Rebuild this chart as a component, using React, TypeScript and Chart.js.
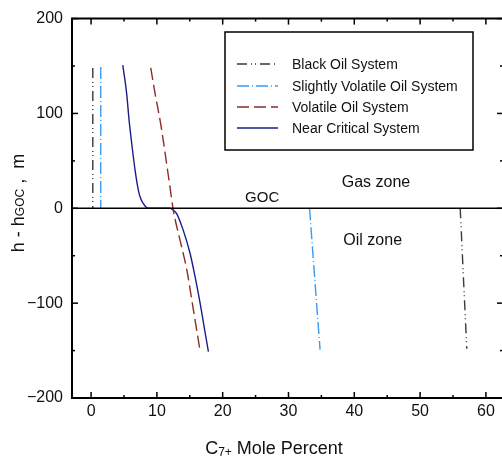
import React, { useEffect, useRef } from 'react';
import { Chart, registerables } from 'chart.js';

Chart.register(...registerables);

const FONT = '"Liberation Sans", Arial, Helvetica, sans-serif';

// ---- data ----
const seriesNames = [
  'Black Oil System',
  'Slightly Volatile Oil System',
  'Volatile Oil System',
  'Near Critical System',
];
const seriesColors = ['#3a3a3a', '#3a9af0', '#8e2b2b', '#1c1c8a'];

// C7+ mole percent (x) vs h - hGOC (m); null splits gas-zone and oil-zone branches
const blackOilX: (number | null)[] = [0.26, 0.26, null, 56.1, 56.6, 57.1];
const blackOilH: (number | null)[] = [148, 0, null, 0, -75, -148];

const slightlyVolX: (number | null)[] = [1.47, 1.47, null, 33.2, 34.0, 34.8];
const slightlyVolH: (number | null)[] = [149, 0, null, 0, -75, -149];

const volatileX: number[] = [9.07, 9.75, 10.49, 11.0, 11.5, 12.0, 12.45, 12.8, 13.6, 14.55, 15.5, 16.56];
const volatileH: number[] = [148, 120, 92.6, 70, 46, 22, 0, -12.6, -36, -65, -105, -150];

const nearCritX: number[] = [4.82, 5.41, 5.78, 6.18, 6.69, 7.19, 7.55, 7.95, 8.3, 8.7, 12.0, 12.5, 13.0, 14.0, 15.05, 15.8, 16.57, 17.18, 17.83];
const nearCritH: number[] = [151, 120.7, 92.6, 68.1, 40, 19, 10, 4.9, 1.6, 0, 0, -1.8, -5.6, -23, -47.7, -72, -100, -125, -151];

const xTickValues = [0, 10, 20, 30, 40, 50, 60];
const xMinorValues = [5, 15, 25, 35, 45, 55];
const yTickValues = [-200, -100, 0, 100, 200];
const yMinorValues = [-150, -50, 50, 150];

const seriesDashes: number[][] = [
  [10, 4, 1, 3, 1, 4],
  [12, 3, 1, 3],
  [12, 5],
  [],
];

function toPoints(xs: (number | null)[], hs: (number | null)[]) {
  return xs.map((x, i) => ({ x: x as any, y: hs[i] as any }));
}

const framePlugin = {
  id: 'frame',
  afterDraw(chart: any) {
    const { ctx, chartArea } = chart;
    const xs = chart.scales.x;
    const ys = chart.scales.y;
    const { left, right, top, bottom } = chartArea;
    ctx.save();
    ctx.strokeStyle = '#000';
    // frame
    ctx.lineWidth = 2;
    ctx.beginPath();
    ctx.moveTo(left, top);
    ctx.lineTo(right, top);
    ctx.lineTo(right, bottom);
    ctx.lineTo(left, bottom);
    ctx.closePath();
    ctx.stroke();
    // GOC line
    const y0 = ys.getPixelForValue(0);
    ctx.lineWidth = 1.5;
    ctx.beginPath();
    ctx.moveTo(left, y0);
    ctx.lineTo(right, y0);
    ctx.stroke();
    // ticks (inward)
    ctx.lineWidth = 1.5;
    const tk = (x1: number, y1: number, x2: number, y2: number) => {
      ctx.beginPath();
      ctx.moveTo(x1, y1);
      ctx.lineTo(x2, y2);
      ctx.stroke();
    };
    xTickValues.forEach((v) => {
      const px = xs.getPixelForValue(v);
      tk(px, bottom, px, bottom - 6);
      tk(px, top, px, top + 6);
    });
    xMinorValues.forEach((v) => {
      const px = xs.getPixelForValue(v);
      tk(px, bottom, px, bottom - 3);
      tk(px, top, px, top + 3);
    });
    yTickValues.forEach((v) => {
      const py = ys.getPixelForValue(v);
      tk(left, py, left + 6, py);
      tk(right, py, right - 6, py);
    });
    yMinorValues.forEach((v) => {
      const py = ys.getPixelForValue(v);
      tk(left, py, left + 3, py);
      tk(right, py, right - 3, py);
    });

    // legend box
    ctx.lineWidth = 1.5;
    ctx.strokeStyle = '#000';
    ctx.fillStyle = '#fff';
    ctx.fillRect(225, 32, 248, 118);
    ctx.strokeRect(225, 32, 248, 118);
    const rows = [64, 86, 107, 128];
    seriesNames.forEach((name, i) => {
      const yy = rows[i];
      ctx.save();
      ctx.strokeStyle = seriesColors[i];
      ctx.lineWidth = 1.5;
      ctx.setLineDash(seriesDashes[i]);
      ctx.beginPath();
      ctx.moveTo(237, yy);
      ctx.lineTo(278, yy);
      ctx.stroke();
      ctx.restore();
      ctx.fillStyle = '#111';
      ctx.font = `14px ${FONT}`;
      ctx.textAlign = 'left';
      ctx.textBaseline = 'middle';
      ctx.fillText(name, 292, yy + 1);
    });

    // annotations
    ctx.fillStyle = '#111';
    ctx.textAlign = 'center';
    ctx.textBaseline = 'middle';
    ctx.font = `16px ${FONT}`;
    ctx.fillText('Gas zone', xs.getPixelForValue(43.3), ys.getPixelForValue(27.4));
    ctx.fillText('Oil zone', xs.getPixelForValue(42.8), ys.getPixelForValue(-34.5));
    ctx.font = `15px ${FONT}`;
    ctx.fillText('GOC', xs.getPixelForValue(26.0), ys.getPixelForValue(10.5));

    // x title: C7+ Mole Percent
    ctx.textAlign = 'left';
    ctx.textBaseline = 'alphabetic';
    ctx.font = `18px ${FONT}`;
    const partA = 'C';
    const partB = '7+';
    const partC = ' Mole Percent';
    const wA = ctx.measureText(partA).width;
    const wC = ctx.measureText(partC).width;
    ctx.font = `12px ${FONT}`;
    const wB = ctx.measureText(partB).width;
    const total = wA + wB + wC;
    let sx = 274 - total / 2;
    const base = 454;
    ctx.font = `18px ${FONT}`;
    ctx.fillText(partA, sx, base);
    sx += wA;
    ctx.font = `12px ${FONT}`;
    ctx.fillText(partB, sx, base + 2);
    sx += wB;
    ctx.font = `18px ${FONT}`;
    ctx.fillText(partC, sx, base);

    // y title: h - hGOC , m (rotated)
    ctx.save();
    ctx.translate(24, 203);
    ctx.rotate(-Math.PI / 2);
    const p1 = 'h - h';
    const p2 = 'GOC';
    const p3 = ' ,  m';
    ctx.font = `18px ${FONT}`;
    const w1 = ctx.measureText(p1).width;
    const w3 = ctx.measureText(p3).width;
    ctx.font = `12px ${FONT}`;
    const w2 = ctx.measureText(p2).width;
    let ty = -(w1 + w2 + w3) / 2;
    ctx.font = `18px ${FONT}`;
    ctx.fillText(p1, ty, 0);
    ty += w1;
    ctx.font = `12px ${FONT}`;
    ctx.fillText(p2, ty, 0);
    ty += w2;
    ctx.font = `18px ${FONT}`;
    ctx.fillText(p3, ty, 0);
    ctx.restore();

    ctx.restore();
  },
};

export default function App() {
  const ref = useRef<HTMLCanvasElement | null>(null);
  useEffect(() => {
    if (!ref.current) return;
    const datasets = [
      toPoints(blackOilX, blackOilH),
      toPoints(slightlyVolX, slightlyVolH),
      toPoints(volatileX, volatileH),
      toPoints(nearCritX, nearCritH),
    ].map((data, i) => ({
      label: seriesNames[i],
      data,
      borderColor: seriesColors[i],
      backgroundColor: seriesColors[i],
      borderWidth: 1.4,
      borderDash: seriesDashes[i],
      pointRadius: 0,
      fill: false,
      spanGaps: false,
      cubicInterpolationMode: i >= 2 ? 'monotone' : 'default',
      tension: 0,
    }));
    const chart = new Chart(ref.current, {
      type: 'line',
      data: { datasets } as any,
      options: {
        responsive: false,
        devicePixelRatio: 1,
        animation: false,
        plugins: { legend: { display: false }, tooltip: { enabled: false } },
        layout: { padding: { top: 18, left: 0, right: 3, bottom: 0 } },
        scales: {
          x: {
            type: 'linear',
            min: -2.9,
            max: 62.6,
            grid: { display: false, drawTicks: false },
            border: { display: false },
            afterFit: (s: any) => { s.height = 61; },
            afterBuildTicks: (s: any) => { s.ticks = xTickValues.map((v) => ({ value: v })); },
            ticks: {
              font: { size: 16, family: FONT },
              color: '#111',
              padding: 4,
              maxRotation: 0,
              autoSkip: false,
            },
          },
          y: {
            type: 'linear',
            min: -200,
            max: 200,
            grid: { display: false, drawTicks: false },
            border: { display: false },
            afterFit: (s: any) => { s.width = 72; },
            afterBuildTicks: (s: any) => { s.ticks = yTickValues.map((v) => ({ value: v })); },
            ticks: {
              font: { size: 16, family: FONT },
              color: '#111',
              padding: 9,
              autoSkip: false,
              callback: (v: any) => (Number(v) < 0 ? '\u2212' + Math.abs(Number(v)) : String(v)),
            },
          },
        },
      } as any,
      plugins: [framePlugin],
    });
    return () => chart.destroy();
  }, []);
  return (
    <div style={{ position: 'absolute', left: 0, top: 0, width: 502, height: 459, overflow: 'hidden', background: '#fff' }}>
      <canvas ref={ref} width={506} height={459} style={{ display: 'block' }} />
    </div>
  );
}
